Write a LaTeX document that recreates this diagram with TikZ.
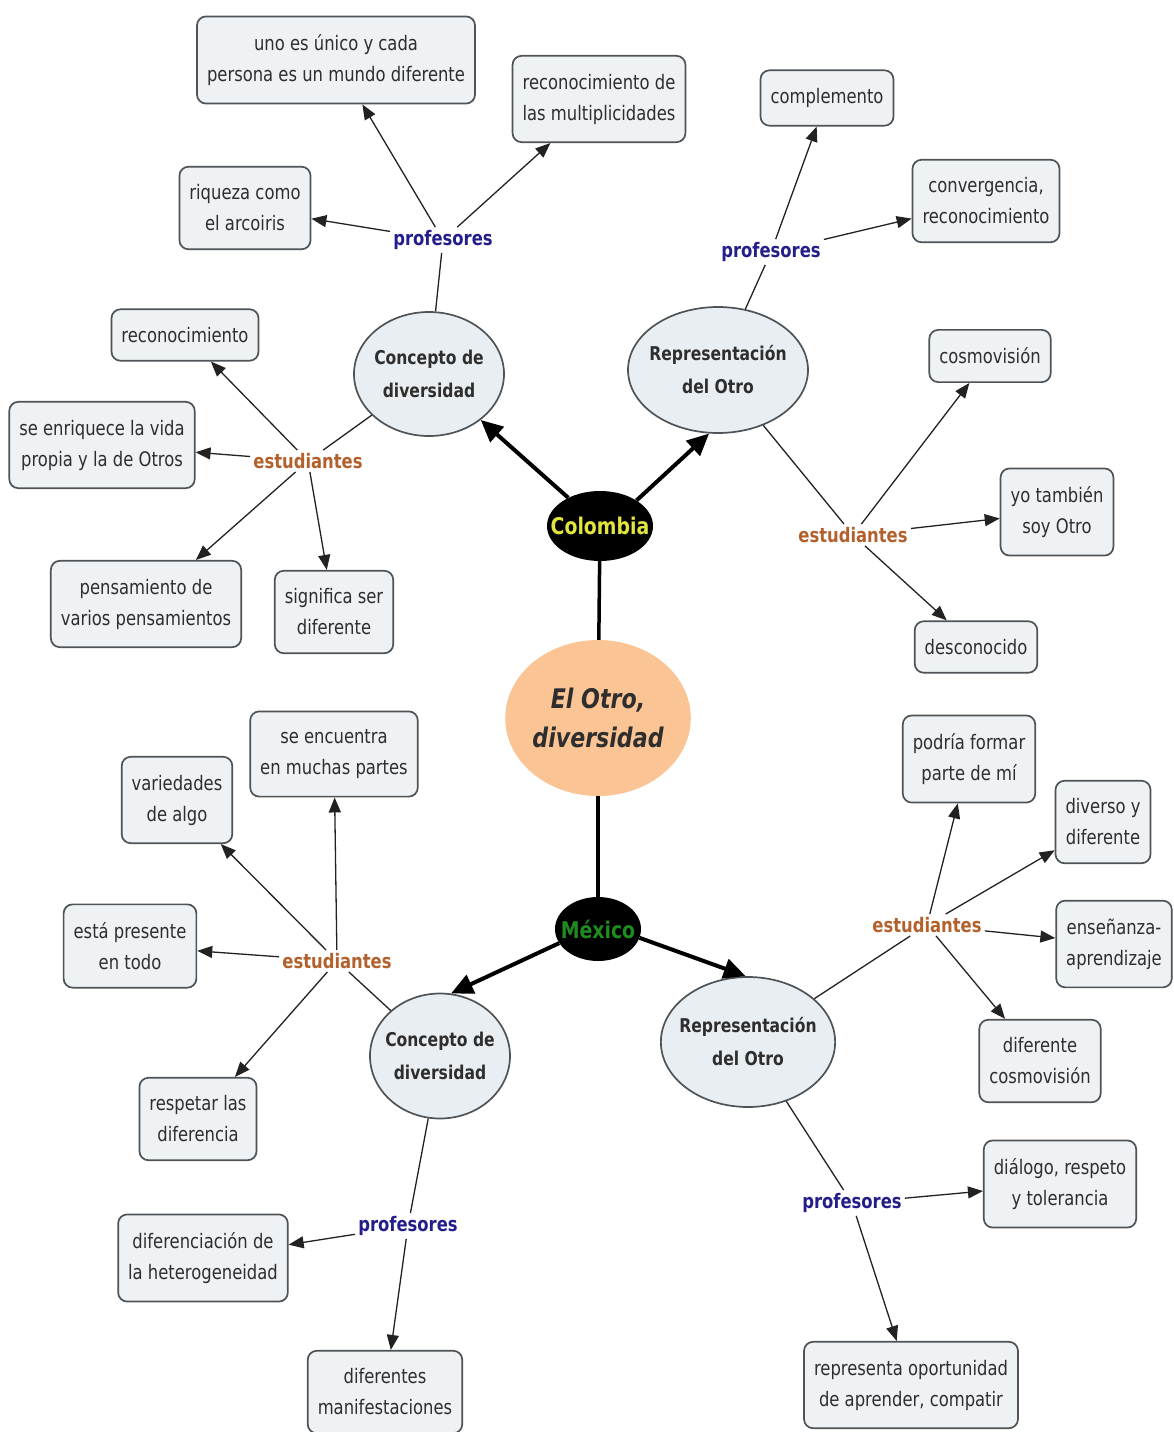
\documentclass[tikz,border=0pt]{standalone}
\usepackage{fontspec}
\setmainfont{DejaVu Sans}[FakeStretch=0.82]
\usetikzlibrary{arrows.meta,shapes.geometric}

\definecolor{boxline}{HTML}{4E5357}
\definecolor{boxfill}{HTML}{EEF2F4}
\definecolor{ellfill}{HTML}{E8EEF2}
\definecolor{linecol}{HTML}{222222}
\definecolor{txtcol}{HTML}{2E2E2E}
\definecolor{profcol}{HTML}{231E8A}
\definecolor{studcol}{HTML}{B2612C}
\definecolor{coreclr}{HTML}{FBC494}
\definecolor{colyel}{HTML}{E2E53C}
\definecolor{mexgrn}{HTML}{1F8C1F}

\tikzset{
  box/.style={draw=boxline, fill=boxfill, rounded corners=9pt, line width=1.7pt,
    align=center, inner xsep=10pt, inner ysep=18pt, text=txtcol,
    font=\fontsize{20}{31}\selectfont},
  concept/.style={ellipse, draw=boxline, fill=ellfill, line width=1.7pt,
    align=center, inner xsep=-7pt, inner ysep=0pt, text=txtcol,
    font=\bfseries\fontsize{19}{33}\selectfont},
  country/.style={ellipse, fill=black, inner xsep=-12pt, inner ysep=0pt,
    font=\bfseries\fontsize{23}{26}\selectfont},
  prof/.style={text=profcol, inner sep=3pt, font=\bfseries\fontsize{20}{24}\selectfont},
  stud/.style={text=studcol, inner sep=3pt, font=\bfseries\fontsize{20}{24}\selectfont},
  link/.style={line width=1.3pt, draw=linecol},
  arr/.style={link, -{Triangle[length=15pt,width=12pt]}},
  trunk/.style={line width=3.5pt, draw=black},
  bigarr/.style={line width=4pt, draw=black, -{Triangle[length=22pt,width=20pt]}}
}

\begin{document}
\begin{tikzpicture}[x=1pt,y=-1pt]
\useasboundingbox (0,0) rectangle (1174,1432);

% centre and the two countries
\node[ellipse, fill=coreclr, minimum width=176pt, minimum height=156pt, inner sep=0pt,
  align=center, text=txtcol, font=\bfseries\itshape\fontsize{27}{39}\selectfont] (core) at (598,718)
  {El Otro,\\diversidad};
\node[country, text=colyel, minimum width=106pt, minimum height=70pt] (col) at (600,526) {Colombia};
\node[country, text=mexgrn, minimum width=86pt, minimum height=64pt] (mex) at (598,929) {México};

% Colombia: concept and representation
\node[concept, minimum width=150pt, minimum height=124pt] (c1) at (429,374) {Concepto de\\diversidad};
\node[concept, minimum width=180pt, minimum height=126pt] (c2) at (718,370) {Representación\\del Otro};
% México: concept and representation
\node[concept, minimum width=140pt, minimum height=125pt] (c3) at (440,1056) {Concepto de\\diversidad};
\node[concept, minimum width=172pt, minimum height=130pt] (c4) at (748,1042) {Representación\\del Otro};

% group labels
\node[prof] (p1) at (443,240) {profesores};
\node[stud] (e1) at (308,461) {estudiantes};
\node[prof] (p2) at (771,252) {profesores};
\node[stud] (e2) at (853,535) {estudiantes};
\node[stud] (e3) at (337,961) {estudiantes};
\node[prof] (p3) at (408,1226) {profesores};
\node[stud] (e4) at (927,925) {estudiantes};
\node[prof] (p4) at (852,1203) {profesores};

% answer boxes, Colombia
\node[box] (b1) at (336,60) {uno es único y cada\\persona es un mundo diferente};
\node[box] (b2) at (599,99) {reconocimiento de\\las multiplicidades};
\node[box] (b3) at (245,208) {riqueza como\\el arcoiris};
\node[box] (b4) at (185,335) {reconocimiento};
\node[box] (b5) at (102,445) {se enriquece la vida\\propia y la de Otros};
\node[box] (b6) at (146,604) {pensamiento de\\varios pensamientos};
\node[box] (b7) at (334,612) {significa ser\\diferente};
\node[box] (b8) at (827,98) {complemento};
\node[box] (b9) at (986,201) {convergencia,\\reconocimiento};
\node[box] (b10) at (990,356) {cosmovisión};
\node[box] (b11) at (1057,512) {yo también\\soy Otro};
\node[box] (b12) at (976,647) {desconocido};

% answer boxes, México
\node[box] (b13) at (334,754) {se encuentra\\en muchas partes};
\node[box] (b14) at (177,800) {variedades\\de algo};
\node[box] (b15) at (130,946) {está presente\\en todo};
\node[box] (b16) at (198,1119) {respetar las\\diferencia};
\node[box] (b17) at (203,1258) {diferenciación de\\la heterogeneidad};
\node[box] (b18) at (385,1392) {diferentes\\manifestaciones};
\node[box] (b19) at (969,759) {podría formar\\parte de mí};
\node[box] (b20) at (1103,822) {diverso y\\diferente};
\node[box] (b21) at (1114,944) {enseñanza-\\aprendizaje};
\node[box] (b22) at (1040,1061) {diferente\\cosmovisión};
\node[box] (b23) at (1060,1184) {diálogo, respeto\\y tolerancia};
\node[box] (b24) at (911,1385) {representa oportunidad\\de aprender, compatir};

% trunk
\draw[trunk] (col) -- (core);
\draw[trunk] (core) -- (mex);
\draw[bigarr] (col) -- (c1);
\draw[bigarr] (col.35) -- (c2.262);
\draw[bigarr] (mex.200) -- (c3.80);
\draw[bigarr] (mex.-12) -- (c4.92);

% concept to group labels
\draw[link] (c1) -- (p1);
\draw[link] (c1) -- (e1);
\draw[link] (c2) -- (p2);
\draw[link] (c2) -- (e2);
\draw[link] (c3) -- (e3);
\draw[link] (c3) -- (p3);
\draw[link] (c4) -- (e4);
\draw[link] (c4) -- (p4);

% group labels to answers
\draw[arr] (p1) -- (b1);
\draw[arr] (p1) -- (b2);
\draw[arr] (p1) -- (b3);
\draw[arr] (e1) -- (b4);
\draw[arr] (e1) -- (b5);
\draw[arr] (e1) -- (b6);
\draw[arr] (e1) -- (b7);
\draw[arr] (p2) -- (b8);
\draw[arr] (p2) -- (b9);
\draw[arr] (e2) -- (b10);
\draw[arr] (e2) -- (b11);
\draw[arr] (e2) -- (b12);
\draw[arr] (e3) -- (b13);
\draw[arr] (e3) -- (b14);
\draw[arr] (e3) -- (b15);
\draw[arr] (e3) -- (b16);
\draw[arr] (p3) -- (b17);
\draw[arr] (p3) -- (b18);
\draw[arr] (e4) -- (b19);
\draw[arr] (e4) -- (b20);
\draw[arr] (e4) -- (b21);
\draw[arr] (e4) -- (b22);
\draw[arr] (p4) -- (b23);
\draw[arr] (p4) -- (b24);
\end{tikzpicture}
\end{document}
